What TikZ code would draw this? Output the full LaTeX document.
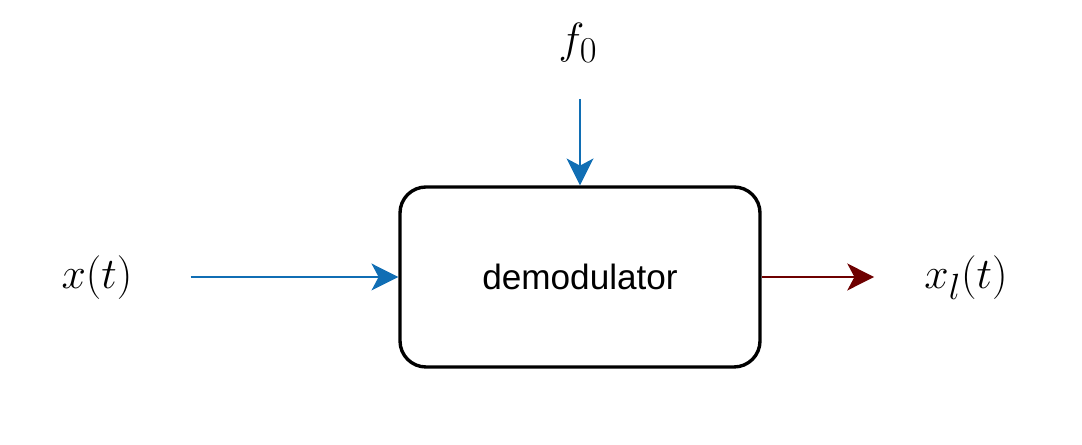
\documentclass[tikz,border=0pt]{standalone}
\usepackage{fontspec}
\setsansfont{Liberation Sans}
\usetikzlibrary{arrows.meta,positioning}

\tikzset{
  block/.style={draw, line width=2.4pt, rounded corners=0.65cm, minimum width=9cm,
    minimum height=4.5cm, font=\sffamily\fontsize{25}{30}\selectfont},
  sig/.style={inner sep=0pt, font=\fontsize{24.88}{30}\selectfont, scale=1.25, transform shape},
  flow/.style={line width=2.1pt, -{Stealth[length=19pt,width=19pt,inset=5pt]}},
}
\definecolor{inblue}{RGB}{16,110,180}
\definecolor{outred}{RGB}{110,0,0}

\begin{document}
\begin{tikzpicture}
  \useasboundingbox (0,0) rectangle (27.05,11.125);

  \node[block] (demod) at (14.5,4.2) {demodulator};
  \node[sig] (xt) at (2.425,4.175) {$x(t)$};
  \node[sig] (f0) at (14.45,10.05) {$f_0$};
  \node[sig] (xl) at (24.15,4.175) {$x_l(t)$};

  \draw[flow, inblue, shorten <=1.45cm] (xt.east |- demod) -- (demod.west);
  \draw[flow, inblue, shorten <=0.9cm] (f0.south -| demod) -- (demod.north);
  \draw[flow, outred, shorten >=1.25cm] (demod.east) -- (xl.west |- demod);
\end{tikzpicture}
\end{document}
